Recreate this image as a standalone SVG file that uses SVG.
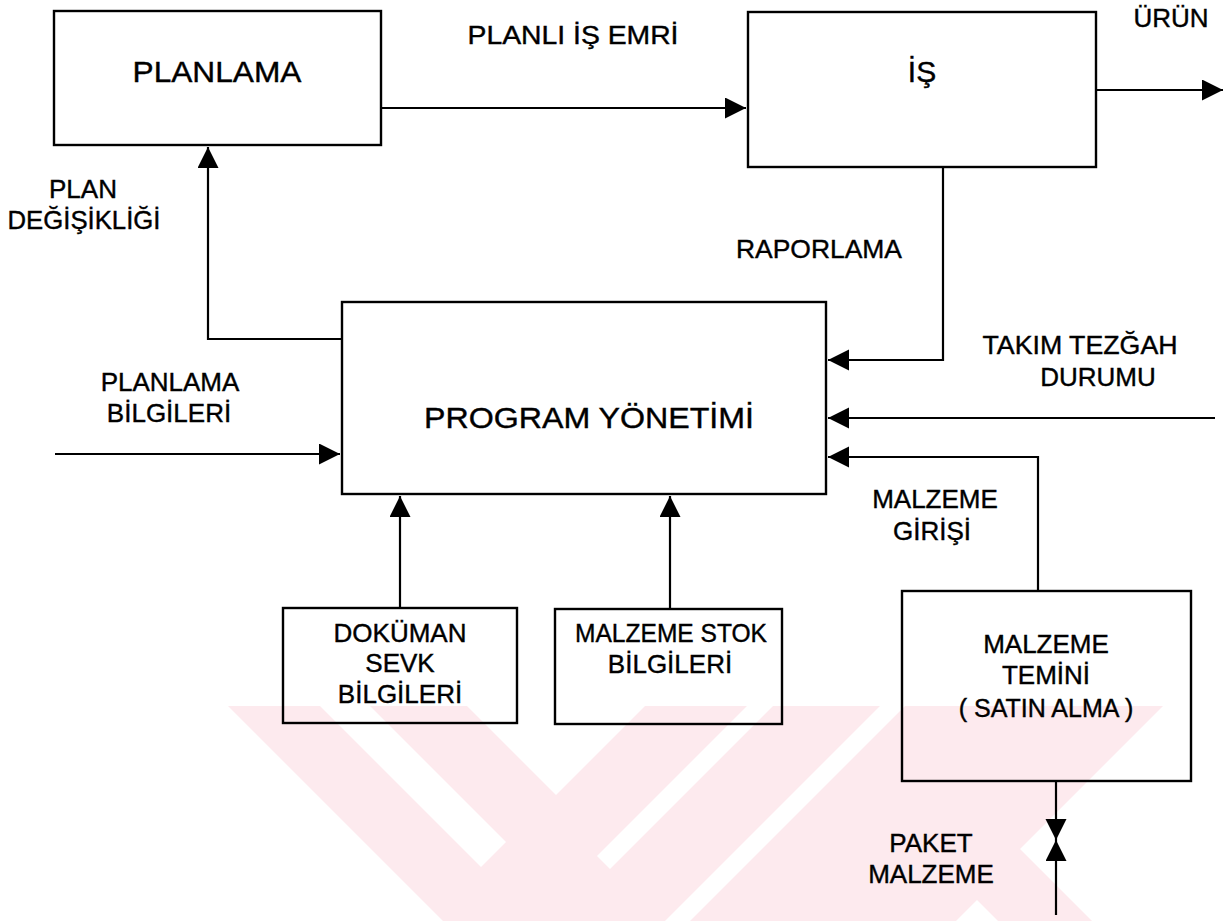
<svg xmlns="http://www.w3.org/2000/svg" width="1225" height="921" viewBox="0 0 1225 921">
<defs>
<style>
.box{fill:none;stroke:#000;stroke-width:2.4}
.ln{fill:none;stroke:#000;stroke-width:2.2}
.t{font-family:"Liberation Sans",Arial,sans-serif;font-size:26px;fill:#000;stroke:#000;stroke-width:0.4;text-anchor:middle}
.big{font-size:30px}
.wm{fill:#fdeaee}
.wh{fill:#fff}
</style>
<marker id="ah" markerUnits="userSpaceOnUse" markerWidth="22" markerHeight="22" refX="21" refY="10.5" orient="auto">
<path d="M0,0 L21,10.5 L0,21 Z" fill="#000"/>
</marker>
</defs>
<rect width="1225" height="921" fill="#fff"/>
<g id="watermark">
<polygon class="wm" points="228,706 1163,706 1020,849 1092,921 443,921"/>
<polygon class="wh" points="320,706 370,706 506,842 481,867"/>
<polygon class="wh" points="467,706 556,795 645,706"/>
<polygon class="wh" points="747,706 773,706 610,869 597,856"/>
<polygon class="wh" points="880,706 905,706 690,921 665,921"/>
<polygon class="wh" points="956,921 977,900 998,921"/>
</g>
<g id="connectors">
<path class="ln" d="M381,108 H746" marker-end="url(#ah)"/>
<path class="ln" d="M1096,90 H1223" marker-end="url(#ah)"/>
<path class="ln" d="M943,167 V360 H828" marker-end="url(#ah)"/>
<path class="ln" d="M1215,418 H828" marker-end="url(#ah)"/>
<path class="ln" d="M1038,591 V457 H828" marker-end="url(#ah)"/>
<path class="ln" d="M342,339 H208 V147" marker-end="url(#ah)"/>
<path class="ln" d="M55,454 H340" marker-end="url(#ah)"/>
<path class="ln" d="M400,608 V496" marker-end="url(#ah)"/>
<path class="ln" d="M670,609 V496" marker-end="url(#ah)"/>
<path class="ln" d="M1056,781 V840" marker-end="url(#ah)"/>
<path class="ln" d="M1056,915 V840" marker-end="url(#ah)"/>
</g>
<g id="planlama">
<rect class="box" x="54" y="11" width="327" height="134"/>
<text class="t big" x="217" y="82" textLength="169" lengthAdjust="spacingAndGlyphs">PLANLAMA</text>
</g>
<g id="is">
<rect class="box" x="748" y="12" width="348" height="155"/>
<text class="t big" x="922" y="82">İŞ</text>
</g>
<g id="program">
<rect class="box" x="342" y="302" width="484" height="192"/>
<text class="t big" x="589" y="428" textLength="330" lengthAdjust="spacingAndGlyphs">PROGRAM YÖNETİMİ</text>
</g>
<g id="dokuman">
<rect class="box" x="283" y="608" width="234" height="115"/>
<text class="t" x="400" y="642">DOKÜMAN</text>
<text class="t" x="400" y="672">SEVK</text>
<text class="t" x="400" y="703">BİLGİLERİ</text>
</g>
<g id="malzeme-stok">
<rect class="box" x="555" y="609" width="227" height="115"/>
<text class="t" x="671" y="642" textLength="192" lengthAdjust="spacingAndGlyphs">MALZEME STOK</text>
<text class="t" x="670" y="673">BİLGİLERİ</text>
</g>
<g id="malzeme-temini">
<rect class="box" x="902" y="591" width="289" height="190"/>
<text class="t" x="1046" y="653">MALZEME</text>
<text class="t" x="1046" y="684">TEMİNİ</text>
<text class="t" x="1046" y="717" style="font-size:25px">( SATIN ALMA )</text>
</g>
<g id="labels">
<text class="t" x="573" y="44" textLength="211" lengthAdjust="spacingAndGlyphs">PLANLI  İŞ  EMRİ</text>
<text class="t" x="1171" y="27">ÜRÜN</text>
<text class="t" x="83" y="198">PLAN</text>
<text class="t" x="84" y="229" textLength="153" lengthAdjust="spacingAndGlyphs">DEĞİŞİKLİĞİ</text>
<text class="t" x="819" y="258" textLength="166" lengthAdjust="spacingAndGlyphs">RAPORLAMA</text>
<text class="t" x="1080" y="354" textLength="195" lengthAdjust="spacingAndGlyphs">TAKIM TEZĞAH</text>
<text class="t" x="1098" y="386">DURUMU</text>
<text class="t" x="170" y="391">PLANLAMA</text>
<text class="t" x="169" y="422">BİLGİLERİ</text>
<text class="t" x="935" y="508">MALZEME</text>
<text class="t" x="932" y="540">GİRİŞİ</text>
<text class="t" x="931" y="852">PAKET</text>
<text class="t" x="931" y="883">MALZEME</text>
</g>
</svg>
